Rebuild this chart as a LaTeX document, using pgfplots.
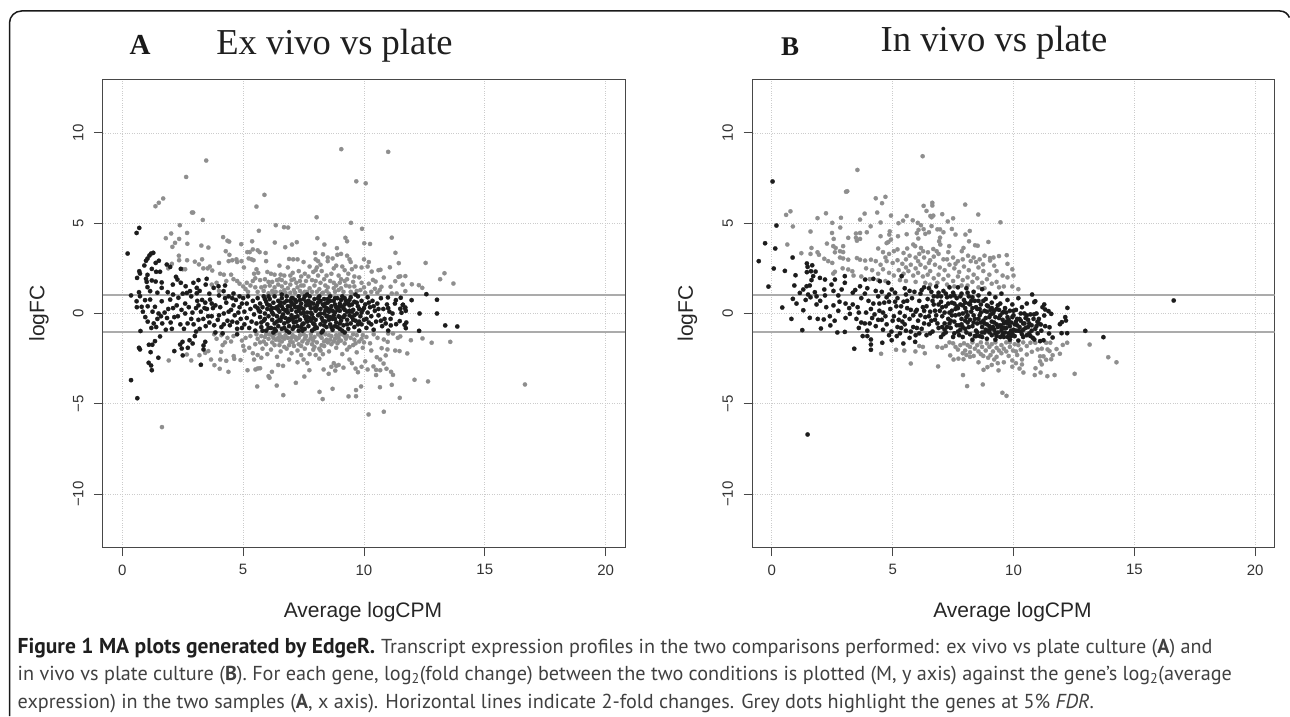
\documentclass[border=0pt]{standalone}
\usepackage{pgfplots}
\pgfplotsset{compat=1.18}
\usepackage{fontspec}
\setmainfont{Liberation Sans}
\newfontfamily\serifx{Liberation Serif}
\newfontfamily\capfont{PT Sans}
\definecolor{dk}{HTML}{1C1C1C}
\definecolor{gy}{HTML}{8E8E8E}
\definecolor{ln}{HTML}{ABABAB}
\pgfplotsset{ma/.style={
  anchor=south west,width=522pt,height=467pt,scale only axis,
  xmin=-0.8,xmax=20.8,ymin=-12.93,ymax=12.93,
  xtick={0,5,10,15,20},xticklabels={0,5,10,15,20},
  ytick={-10,-5,0,5,10},yticklabels={−10,−5,0,5,10},
  xtick pos=bottom,ytick pos=left,tick align=outside,major tick length=9pt,
  xmajorgrids,ymajorgrids,
  grid style={dotted,draw=black!20,line width=0.8pt},
  axis line style={draw=black!72,line width=1pt},
  tick style={draw=black!72,line width=0.9pt},
  tick label style={font=\fontsize{15}{15}\selectfont,text=black!80},
  xticklabel shift=5pt,yticklabel shift=7pt,
  yticklabel style={rotate=90,anchor=south},
  label style={font=\fontsize{21}{21}\selectfont,text=black!85},
  clip=true}}
\pgfplotsset{gd/.style={only marks,mark=*,mark size=2.15pt,mark options={draw=gy,fill=gy,line width=0.2pt}},
 bd/.style={only marks,mark=*,mark size=2.2pt,mark options={draw=dk,fill=dk,line width=0.2pt}},
 hl/.style={draw=ln,line width=2pt,forget plot}}
\begin{document}
\begin{tikzpicture}
\useasboundingbox (0,0) rectangle (1290pt,716pt);
\draw[black!90,line width=1.5pt] (9.5pt,0pt) -- (9.5pt,693pt) arc[start angle=180,end angle=90,radius=12pt] -- (1280pt,705pt) arc[start angle=90,end angle=20,radius=10pt];
\node[font=\serifx\bfseries\fontsize{29}{29}\selectfont,text=black!90,anchor=base] at (140pt,661pt) {A};
\node[font=\serifx\fontsize{36.5}{36.5}\selectfont,text=black!88,anchor=base,inner sep=0pt] at (334.5pt,661pt) {Ex vivo vs plate};
\node[font=\serifx\bfseries\fontsize{27}{27}\selectfont,text=black!90,anchor=base] at (790pt,660pt) {B};
\node[font=\serifx\fontsize{36.6}{36.6}\selectfont,text=black!88,anchor=base,inner sep=0pt] at (994pt,664pt) {In vivo vs plate};

\begin{axis}[ma,at={(103pt,169pt)},
 xlabel={Average logCPM},ylabel={logFC},
 xlabel style={at={(axis description cs:0.498,-0.139)},anchor=center},
 ylabel style={at={(axis description cs:-0.1226,0.5)},anchor=center}]
\addplot[hl] coordinates {(-0.8,1)(20.8,1)};
\addplot[hl] coordinates {(-0.8,-1)(20.8,-1)};
% grey, upper outliers
\addplot[gd] coordinates {(9.06,9.1)(3.47,8.47)(2.64,7.56)(9.68,7.32)(10.07,7.21)(11,8.95)(5.88,6.57)(5.55,5.92)(1.69,6.37)(1.51,6.13)(1.37,5.94)(2.88,5.59)(2.93,5.59)(3.33,5.18)(2.38,4.89)(8.04,5.33)(9.46,5.02)(9.92,4.69)(6.35,4.89)(6.69,4.78)(6.86,4.76)(5.65,4.58)(2.68,4.46)(2.02,4.43)(1.8,4.17)(2.35,4.13)(2.18,3.91)(2.07,3.69)(2.69,3.86)(3.27,3.76)(3.56,3.65)(4.17,4.23)(4.35,4.03)(4.42,3.98)(4.92,3.84)(5.37,4)(6.31,3.93)(6.74,3.67)(7.02,3.82)(7.22,3.95)(8.07,4.17)(8.36,3.82)(8.88,3.62)(9.23,4.19)(9.3,4)(10.01,3.89)(10.25,3.85)(11.15,4.2)(11.3,3.36)(11.44,2.79)(12.55,2.8)(11.07,2.56)(10.6,2.4)(10.68,2.42)(10.32,2.32)(13.33,2.23)(13.15,1.9)(13.7,1.66)(10.82,1.99)(11.43,2.03)(11.5,2.06)(11.71,2.07)(11.29,1.79)(11.6,1.6)(11.98,1.62)(12.27,1.57)(12.41,1.42)(11.71,1.24)(11.15,1.11)(11.35,1.11)(11.1,1.48)(10.72,1.48)(10.45,1.37)(10.37,1.86)(10.48,1.77)
(2.34,3.2)(2.35,2.95)(2.68,2.95)(3.0,2.87)(3.17,2.72)(3.35,2.5)(3.53,2.5)(3.62,2.6)(3.72,2.38)(4,2.8)(3.3,3.0)(2.05,2.75)(1.9,2.5)(2.5,2.45)(2.6,2.45)
(4.28,3.45)(4.43,3.25)(4.4,2.9)(4.55,2.95)(4.72,3)(4.75,2.85)(4.93,2.9)(5.03,2.55)(5.17,3.4)(5.27,3.4)(5.4,3.55)(5.6,3.5)(5.68,3.4)(5.93,3.35)(5.23,3.05)(5.35,3.0)(5.43,2.95)(5.95,2.9)(6.5,2.65)(6.9,3.02)(7.07,3)(7.25,3.0)(7.5,2.85)(7.75,2.6)(7.98,3.35)(8.0,3)(8.1,2.9)(8.3,3.28)(8.5,3.1)(8.7,3.05)(8.9,3.25)(9.05,3.3)(9.3,3.2)(9.4,3.0)(9.45,2.85)(9.65,2.6)(9.9,2.55)(10,3)(10.2,2.85)(10.15,2.6)
(3.7,1.6)(3.9,1.7)(4.05,2.2)(4.2,2.15)(4.5,2.15)(4.6,1.9)(4.75,1.8)(4.85,1.65)(5,1.5)(5.1,1.35)(5.3,1.55)(5.45,2.2)(5.55,2.45)(5.62,2.25)(5.5,1.95)(5.4,1.8)(5.7,1.85)(6,2.3)(6.15,2.2)(6.3,2.15)(6.5,1.9)(6.6,1.85)(6.75,1.7)(6.45,1.6)(6.3,1.45)(6.2,1.25)(6.05,1.12)(6.35,1.2)(6.6,1.5)(6.7,1.3)(6.85,1.4)(6.95,2.1)(7.05,2.25)(7.1,1.9)(7.2,1.7)(7.25,1.45)(7.35,1.25)(7.45,1.1)(7.5,1.55)(7.6,1.8)(7.7,2.05)(7.75,1.4)(7.85,1.2)(7.95,1.55)(8,1.8)(8.1,2.1)(8.05,2.55)(8.2,2.7)(8.25,2.35)(8.35,1.9)(8.4,1.55)(8.45,1.25)(8.55,1.1)(8.6,1.8)(8.65,2.2)(8.75,2.5)(8.85,2.65)(8.95,2.1)(9.0,1.7)(9.05,1.4)(9.15,1.2)(9.25,1.55)(9.3,1.9)(9.35,2.2)(9.5,2.45)(9.55,1.75)(9.6,1.5)(9.7,1.25)(9.8,2)(9.9,1.7)(10,1.45)(10.05,1.15)(10.2,1.65)(10.3,1.2)
(6.7,2.1)(6.85,2.55)(7.3,2.35)(7.4,2.05)(7.9,2.3)(8.5,2.9)(9.1,2.6)(9.2,2.4)(6.1,1.55)(5.75,1.45)(5.6,1.2)(5.85,1.25)(6.95,1.15)(7.15,1.15)(8.25,1.1)(8.8,1.2)(8.85,1.55)(8.15,1.35)(7.65,1.2)(7.1,1.3)(9.45,1.2)(9.4,1.5)(10.55,1.15)(10.65,1.3)
(4.0,1.25)(4.3,1.8)(5.15,1.7)(5.2,1.2)(5.5,1.45)(5.9,1.9)(6.2,1.75)(6.55,1.2)(6.95,1.6)(7,1.85)(7.35,1.8)(7.4,1.55)(7.55,1.2)(7.85,1.85)(8.05,1.2)(8.2,1.7)(8.3,1.15)(8.5,1.45)(8.75,1.4)(8.95,1.3)(9.2,1.8)(9.5,1.1)(9.85,1.3)(6.4,1.85)(6.05,1.75)(5.9,1.5)(6.55,2.15)(6.25,1.1)(6.75,1.15)(7.55,2.2)(8.45,2.1)(8.75,1.7)(9.05,1.9)(9.6,2.05)(8.0,2.4)
};
% grey, lower
\addplot[gd] coordinates {(16.66,-3.93)(13.57,-1.57)(12.8,-1.62)(12.42,-1.38)(11.94,-1.48)(11.79,-2.21)(11.47,-2.08)(11.29,-2.05)(10.97,-1.99)(10.73,-1.92)(10.9,-2.32)(12.09,-3.67)(12.65,-3.76)(11.15,-3.95)(10.66,-4.08)(11.48,-4.67)(10.82,-5.44)(11.2,-3.4)(11.12,-3.23)(10.93,-3.06)(10.5,-3.41)(10.67,-3.14)(10.5,-3.12)(10.39,-2.93)(10.81,-2.77)(10.67,-2.55)(10.53,-2.42)(10.98,-1.57)(10.82,-1.44)(10.56,-1.35)(11.4,-1.35)(11.5,-1.27)(11.2,-1.11)(11,-1.11)
(1.64,-6.29)(1.92,-2.6)(2.67,-2.27)(2.85,-2.6)(3.19,-2.31)(3.43,-2.18)(3.56,-2.08)(3.67,-2.55)(3.81,-2.86)(4.03,-3.06)(4.05,-2.55)(4.3,-2.62)(4.39,-3.23)(4.09,-2.12)(4.61,-2.36)(4.63,-2.51)(4.89,-2.58)(5.58,-4.04)(6.39,-3.99)(6.66,-4.52)(7.18,-3.84)(8.16,-4.34)(8.29,-4.74)(8.7,-4.17)(9.36,-4.59)(9.67,-4.58)(9.67,-4.24)(9.88,-4.04)(10.19,-5.59)(6.05,-3.47)(6.09,-3.56)(6.19,-3.23)(5.18,-3.14)(5.51,-3.1)(5.61,-3.04)(5.7,-3.03)(7.53,-3.49)(7.74,-3.14)(8.54,-3.34)(8.81,-3.16)(8.33,-3.1)(8.65,-2.95)(8.85,-2.9)(8.75,-2.75)(8.95,-2.85)(9.15,-3)(9.4,-2.55)(9.5,-2.75)(9.65,-3.05)(9.75,-3.25)(9.9,-2.95)(10.05,-2.65)(10.15,-3.1)
(3.9,-1.4)(4.1,-1.2)(4.25,-1.6)(4.35,-1.35)(4.5,-1.55)(4.6,-1.25)(4.15,-1.75)(3.8,-1.15)(5.1,-1.35)(4.95,-1.5)(5,-1.8)(5.05,-2.05)(5.25,-1.9)(5.4,-2.2)(5.5,-1.7)(5.6,-1.4)(5.75,-1.25)(5.85,-1.55)(5.8,-1.95)(5.6,-2.3)(5.45,-2.55)(5.75,-2.45)(6,-2.25)(6.15,-2.0)(6.3,-1.75)(6.35,-1.45)(6.2,-1.2)(6.5,-1.15)(6.6,-1.55)(6.7,-1.85)(6.55,-2.1)(6.4,-2.4)(6.65,-2.9)(6.45,-2.85)(6.9,-2.55)(7,-2.2)(7.1,-1.8)(7.2,-1.45)(7.05,-1.2)(6.85,-1.35)(7.35,-1.2)(7.45,-1.55)(7.55,-1.95)(7.4,-2.3)(7.25,-2.7)(7.5,-2.55)(7.65,-2.75)(7.75,-2.25)(7.85,-1.7)(7.95,-1.3)(8.1,-1.15)(8.05,-1.6)(8.15,-1.95)(8,-2.3)(8.15,-2.5)(8.3,-2.25)(8.35,-1.8)(8.45,-1.45)(8.55,-1.2)(8.65,-1.7)(8.55,-2.1)(8.75,-1.55)(8.85,-1.9)(8.95,-1.35)(9.1,-1.15)(9.2,-1.65)(9.3,-2)(9.1,-2.25)(9.45,-1.35)(9.55,-1.75)(9.7,-1.2)(9.8,-1.55)(9.95,-1.9)(10.1,-1.3)(10.25,-1.65)(10.3,-2.05)(9.7,-2.15)(7.6,-1.25)(7.3,-1.7)(6.95,-1.55)(6.5,-1.75)(6.75,-1.2)(8.25,-1.35)(8.4,-1.15)(8.85,-1.2)(9.3,-1.25)(7.9,-2.0)(7.7,-1.5)(6.3,-1.15)(5.95,-1.15)(5.95,-1.7)(6.05,-1.4)(7.8,-1.15)(10.4,-1.15)
(7.25,-2.05)(6.8,-1.95)(6.2,-1.6)(5.55,-1.15)(7.95,-1.85)(8.25,-1.75)(8.6,-1.45)(9.05,-1.5)(9.4,-1.85)(9.65,-1.65)(10,-1.6)(7.55,-1.4)(7.05,-1.6)(6.45,-1.35)(8.9,-1.65)(8.2,-2.05)
(5.3,-1.25)(5.7,-1.6)(6.1,-1.15)(6.7,-1.4)(6.9,-1.75)(7.15,-1.3)(7.4,-1.8)(7.65,-1.65)(7.8,-1.35)(8.2,-1.25)(8.5,-1.6)(8.8,-1.4)(9.0,-1.15)(9.25,-1.4)(9.55,-1.15)(9.95,-1.2)(6.25,-1.35)(5.9,-1.3)(6.6,-1.3)(7.5,-1.15)(7.9,-1.5)(8.35,-1.55)(8.65,-1.25)(8.95,-1.55)(9.2,-1.25)(9.6,-1.45)(9.9,-1.4)(7.3,-1.35)(7,-1.35)(6.5,-1.5)
};
% black
\addplot[bd] coordinates {(0.22,3.32)(0.59,4.46)(0.7,4.74)(1.28,3.36)(1.19,3.32)(1.12,3.21)(1.04,3.04)(0.98,2.92)(1.51,2.92)(1.38,2.8)(0.91,2.66)(1.22,2.47)(0.7,2.34)(0.73,2.21)(1.4,2.31)(1.56,2.31)(0.61,1.97)(1.04,2.14)(0.98,1.92)(1.01,1.75)(1.22,1.83)(1.38,1.77)(1.84,2.71)(1.98,2.58)(2.42,2.47)(2.22,2.03)(2.28,1.88)(2.09,1.6)(2.42,1.7)(2.62,1.51)(2.94,1.7)(3.15,1.85)(3.49,1.92)(3.45,1.6)(3.08,1.42)(2.8,1.24)(3.78,1.42)(3.98,1.51)(4.25,1.55)(4.19,1.24)(4.6,1.11)(1.63,1.72)(1.63,1.42)(1.88,1.18)(1.04,1.46)(1.15,1.24)(0.69,1.18)(0.36,1)(0.59,0.68)(0.73,0.96)(0.94,0.74)(1.15,0.77)(0.8,0.37)(1.35,0.37)(1.63,0.68)(1.98,0.77)(2.32,0.87)(2.67,1.14)(3.08,1.12)(3.43,0.6)(3.63,0.77)(12.58,1.07)(13.02,0.76)(11.97,0.74)(11.52,0.87)(11.32,0.74)(11.61,0.48)(11.71,0.33)(12.3,0)(13.02,0)(13.36,-0.66)(13.86,-0.72)(12.28,-0.96)(11.73,-0.81)(11.68,-0.63)(11.75,-0.5)(11.48,-0.42)(11.33,-0.59)(11.11,-0.66)(11.18,0)(11.55,0.04)(11.73,0.15)(11.5,0.26)(11.69,0.31)(11.61,0.48)(10.99,0.89)(11.28,0.55)
(0.36,-3.69)(0.62,-4.69)(0.73,-1.99)(0.69,-1.9)(1.1,-1.73)(1.24,-1.73)(1.35,-1.53)(1.56,-1.27)(1.17,-2.14)(1.49,-2.45)(1.09,-2.73)(1.19,-2.88)(1.22,-3.14)(3.25,-2.84)(2.15,-2.08)(2.5,-2.32)(2.46,-1.94)(2.39,-1.72)(2.71,-1.9)(2.78,-1.48)(2.49,-1.57)(2.91,-1.66)(3.43,-1.57)(3.36,-1.77)(3.36,-1.99)(0.75,-0.97)(0.85,0.1)(0.6,0.35)(0.95,-0.2)(1.05,-0.45)(1.2,-0.8)(1.25,0.1)(1.45,-0.3)(1.4,-0.75)(1.75,0.05)(1.85,-0.25)(1.65,-0.55)(1.8,-0.9)(2.0,-0.5)(2.1,0.3)(2.25,0.45)(2.3,-0.15)(2.4,-0.6)(2.55,-0.85)(2.6,0)(2.75,0.35)(2.85,-0.3)(2.95,-0.6)(3.05,-1)(3.2,-0.85)(3.05,0.3)(3.1,0.7)(3.25,0.1)(3.35,-0.3)(3.5,0.25)(3.6,-0.5)(3.7,-0.15)(3.85,0.45)(3.95,-0.35)(4.1,-0.75)(4.2,0)(4.3,0.6)(4.35,-0.4)(4.45,-0.65)(4.5,0.2)(4.65,-0.1)(4.7,0.75)(4.75,-0.85)(4.85,0.35)(4.9,-0.3)(5,0.85)(5.05,-0.6)(3.0,-1.25)(3.85,-1.05)(4.15,-1.1)(4.75,-1.15)(4.4,0.95)
(1.05,0.4)(1.5,0.0)(1.9,0.25)(2.15,-0.2)(2.45,0.2)(2.7,-0.55)(2.9,0.05)(3.15,-0.35)(3.4,0.3)(3.55,-0.15)(3.75,0.3)(3.8,-0.65)(4.05,0.35)(4.25,0.85)(4.4,0.1)(4.55,-0.45)(4.6,0.45)(4.8,0.05)(4.95,0.55)(4.95,-0.8)(1.3,-0.55)(1.6,-0.15)(2.05,-0.85)(2.6,0.55)(3.3,0.75)(3.7,0.55)(3.45,-0.7)(4,-0.1)(4.55,0.85)(4.75,-0.5)(4,1.0)(3.6,1.1)(3.2,1.25)(2.5,1.1)(2.1,1.05)(1.45,1.15)(2.85,0.95)(4.85,0.95)(4.2,-0.6)(3.15,0.45)
(5.05,0.1)(5.15,0.55)(5.15,-0.25)(5.2,0.95)(5.25,-0.8)(5.3,0.25)(5.35,-0.45)(5.4,0.7)(5.45,-0.05)(5.5,0.4)(5.5,-0.95)(5.55,-0.55)(5.6,0.85)(5.65,0.15)(5.7,-0.2)(5.7,0.55)(5.75,-0.75)(5.8,0.35)(5.85,-0.4)(5.85,0.95)(5.9,0)(5.95,0.65)(5.95,-0.95)(6,-0.6)(6,0.25)(6.05,-0.15)(6.1,0.8)(6.1,0.45)(6.15,-0.8)(6.2,-0.35)(6.2,0.05)(6.25,0.6)(6.3,-0.55)(6.3,0.95)(6.35,0.3)(6.35,-0.95)(6.4,-0.15)(6.45,0.7)(6.45,-0.7)(6.5,0.1)(6.5,0.45)(6.55,-0.4)(6.6,0.85)(6.6,-0.85)(6.65,-0.05)(6.65,0.25)(6.7,0.6)(6.7,-0.55)(6.75,-0.25)(6.8,0.95)(6.8,-0.95)(6.85,0.4)(6.85,0.05)(6.9,-0.7)(6.95,0.7)(6.95,-0.35)(7,0.2)(7,-0.1)(7.05,0.85)(7.05,-0.85)(7.1,0.5)(7.1,-0.5)(7.15,-0.2)(7.2,0.1)(7.2,0.65)(7.25,-0.7)(7.25,0.35)(7.3,0.95)(7.3,-0.95)(7.35,-0.35)(7.4,0)(7.4,0.55)(7.45,-0.6)(7.5,0.8)(7.5,0.25)(7.55,-0.15)(7.55,-0.85)(7.6,0.45)(7.65,-0.45)(7.65,0.05)(7.7,0.7)(7.7,-0.7)(7.75,0.95)(7.75,-0.25)(7.8,0.3)(7.85,-0.95)(7.85,-0.05)(7.9,0.55)(7.9,-0.55)(7.95,0.8)(8,0.15)(8,-0.35)(8.05,-0.8)(8.05,0.45)(8.1,-0.1)(8.15,0.65)(8.15,0.95)(8.2,-0.6)(8.2,0.25)(8.25,-0.25)(8.3,0.5)(8.3,-0.95)(8.35,0)(8.35,0.8)(8.4,-0.45)(8.45,0.3)(8.45,-0.75)(8.5,0.6)(8.5,-0.15)(8.55,0.1)(8.6,-0.6)(8.6,0.95)(8.65,0.4)(8.7,-0.3)(8.7,-0.9)(8.75,0.7)(8.8,0.05)(8.85,-0.5)(8.85,0.35)(8.9,-0.75)(8.9,0.85)(8.95,-0.15)(9,0.55)(9,0.15)(9.05,-0.4)(9.1,-0.95)(9.1,0.95)(9.15,0.3)(9.15,-0.65)(9.2,-0.1)(9.25,0.7)(9.3,0.1)(9.3,-0.35)(9.35,-0.85)(9.4,0.45)(9.45,-0.55)(9.45,0.9)(9.5,-0.2)(9.55,0.2)(9.6,0.65)(9.6,-0.75)(9.65,-0.4)(9.7,0)(9.75,0.95)(9.75,0.4)(9.8,-0.95)(9.85,-0.15)(9.9,0.7)(9.9,-0.6)(9.95,0.2)(10,-0.35)(10.05,0.5)(10.1,-0.8)(10.15,0.9)(10.15,0.05)(10.2,-0.5)(10.25,0.35)(10.3,-0.15)(10.35,0.7)(10.4,-0.9)(10.45,0.15)(10.5,-0.45)(10.55,0.55)(10.6,-0.1)(10.7,0.85)(10.75,-0.7)(10.8,0.25)(10.85,-0.3)(10.95,0.5)(11,-0.95)(11.05,0.1)
(5.8,-0.95)(6.05,0.95)(6.25,-1.05)(6.6,1.05)(6.75,0.15)(6.9,-1.05)(7.15,0.35)(7.35,0.75)(7.45,-0.95)(7.6,-0.3)(7.65,1.05)(7.8,0.6)(7.95,-0.6)(8.1,0.85)(8.25,-1.05)(8.4,0.15)(8.55,-0.35)(8.6,0.7)(8.75,-0.1)(8.8,-0.7)(8.95,0.35)(9.05,0.75)(9.2,-1.05)(9.35,0.55)(9.5,0.1)(9.65,1.05)(9.75,-0.6)(6.55,0.6)(6.4,0.35)(6.85,-0.45)(7.05,-0.3)(7.3,0.15)(7.5,-0.55)(7.75,0.45)(7.95,0.3)(8.15,-0.05)(8.35,-0.65)(8.5,0.25)(8.65,-0.75)(8.8,0.5)(9,-0.2)(9.2,0.5)(9.4,-0.1)(9.55,-0.35)(9.8,0.25)(7,0.6)(7.2,-0.45)(7.4,0.3)(7.6,0.65)(7.8,-0.4)(8,-0.75)(8.2,0.7)(8.4,0.55)(8.6,0.2)(8.8,-0.3)(9,-0.55)(9.2,0.2)(9.4,0.75)(6.2,0.3)(6,0.5)(6.4,-0.45)(6.6,-0.2)(6.8,0.7)(5.9,-0.3)(5.7,0.1)
(5.6,0.3)(5.75,-0.5)(5.9,0.8)(6.05,-0.8)(6.15,0.2)(6.25,-0.05)(6.3,-0.85)(6.45,0.2)(6.5,-0.35)(6.6,0.4)(6.7,-0.8)(6.8,0.2)(6.9,-0.3)(6.95,0.4)(7,0.85)(7.1,-0.75)(7.15,0.75)(7.25,-0.15)(7.35,0.4)(7.4,-0.75)(7.5,0.05)(7.55,0.95)(7.65,-0.2)(7.7,0.5)(7.8,0.05)(7.9,-0.25)(7.95,-0.85)(8.05,0.25)(8.1,0.6)(8.2,0)(8.3,-0.4)(8.35,0.4)(8.45,-0.15)(8.5,0.8)(8.6,-0.2)(8.7,0.15)(8.8,0.85)(8.9,0.2)(9,-0.85)(9.05,0.4)(9.15,-0.2)(9.2,0.85)(9.3,-0.6)(9.4,0.15)(9.5,0.5)(9.6,-0.1)(9.7,0.6)(9.8,-0.45)(9.9,0.05)(10,0.3)(10.1,-0.3)(10.2,0.6)(10.3,-0.6)(10.4,0.4)(10.6,0.25)(10.7,-0.4)(10.9,-0.55)(11,0.3)(11.1,-0.3)
};
\end{axis}

\begin{axis}[ma,at={(752.5pt,169pt)},
 xlabel={Average logCPM},ylabel={logFC},
 xlabel style={at={(axis description cs:0.498,-0.139)},anchor=center},
 ylabel style={at={(axis description cs:-0.1245,0.5)},anchor=center}]
\addplot[hl] coordinates {(-0.8,1)(20.8,1)};
\addplot[hl] coordinates {(-0.8,-1)(20.8,-1)};
\addplot[gd] coordinates {(6.24,8.71)(3.54,7.95)(3.12,6.77)(3.07,6.74)(4.3,6.38)(4.7,6.46)(4.56,6.11)(8,6.03)(6.64,6.13)(6.64,5.98)(6.28,5.96)(6.4,5.68)(0.59,5.46)(0.77,5.66)(0.87,4.82)(0.64,3.82)(1.6,4.54)(1.89,5.28)(2.24,5.55)(2.86,5.3)(2.5,5.02)(2.83,4.76)(2.49,4.46)(2.56,4.13)(2.28,3.87)(1.64,3.63)(1.6,3.3)(1.22,3.34)(1.89,3.39)(1.95,3.25)(2.17,3.03)(2.33,2.9)(2.5,2.8)(2.54,3.73)(2.64,3.63)(2.61,3.39)(2.82,3.45)(2.95,3.4)(2.82,3.1)(2.95,3.05)(3.16,2.98)(2.93,2.5)(2.54,2.21)(2.61,2.31)(3.16,2.44)(3.33,2.34)(3.38,2.1)(3.52,3.07)(3.65,2.98)(3.86,2.93)(4.1,2.98)(3.65,4.46)(3.48,4.43)(3.48,4.19)(3.65,4.13)(3.52,4.03)(3.16,4.19)(2.95,3.73)(3.65,5.2)(3.84,5.53)(4.36,5.59)(4.5,5.04)(4.93,5.42)(4.09,4.83)(3.93,4.5)(5.24,5)(5.43,5.14)(5.58,5.4)(5.83,5.16)(6.04,5.02)(6.17,4.89)(6.28,4.67)(6.61,5.33)(6.56,5.4)(6.68,5.42)(7.05,5.5)(7.28,5.1)(7.5,5.27)(8.54,5.48)(9.46,5.05)(8.19,4.57)(8.01,4.37)(7.45,4.68)(7.6,4.37)(6.85,4.66)(6.96,4.66)(7.1,4.5)(6.61,4.84)(6.5,4.5)(6.35,4.41)(6.07,4.63)(6,4.45)(5.58,4.39)(5.22,4.28)(4.88,4.55)(4.86,4.37)(4.5,4.28)(4.93,4.09)(4.82,3.96)(4.75,3.9)(8.96,3.96)(8.41,3.78)(8.52,3.75)(8.16,4)(7.93,3.63)(7.86,3.45)(7.34,3.73)(6.96,4.2)(6.92,4)(6.97,3.82)(5.85,3.82)(6.06,4.15)(5.93,3.73)(6.17,3.63)(6.26,3.45)(6.46,3.39)(6.68,3.57)(6.82,3.45)
(9.72,3.23)(9.4,3.18)(9.17,3.1)(9.03,3.07)(9.03,2.93)(8.8,3.2)(8.74,2.72)(8.45,2.85)(8.23,2.9)(8.12,3.2)(4.4,3.6)(4.6,3.4)(4.85,3.3)(5.05,3.45)(5.2,3.55)(5.45,3.35)(5.6,3.6)(5.7,3.2)(5.95,3.1)(6.1,3.3)(6.3,3.1)(6.55,2.95)(6.7,3.15)(6.9,3.3)(7.1,3)(7.3,3.4)(7.5,3.1)(7.7,2.9)(7.9,3)(4.3,2.9)(4.5,2.7)(4.75,2.9)(5,2.8)(5.2,2.95)(5.4,2.75)(5.55,3)(5.75,2.7)(5.95,2.5)(6.15,2.7)(6.35,2.55)(6.55,2.35)(6.75,2.7)(6.95,2.55)(7.15,2.4)(7.35,2.7)(7.55,2.5)(7.75,2.3)(7.95,2.6)(8.15,2.4)(8.35,2.15)(8.55,2.55)(8.75,2.35)(9,2.15)(9.3,2.35)(9.55,2.1)(9.75,2)(3.9,2.5)(4.15,2.4)(4.4,2.2)(4.6,2.45)(4.85,2.25)(5.05,2.1)(5.25,2.4)(5.45,2.2)(5.65,2.35)(5.85,2.1)(6.05,2.25)(6.25,2.05)(6.45,2.15)(6.7,1.95)(6.9,2.15)(7.1,1.9)(7.3,2.1)(7.5,1.8)(7.7,2.05)(7.9,1.85)(8.1,2)(8.3,1.75)(8.5,1.95)(8.7,1.7)(8.9,1.9)(9.1,1.65)(9.3,1.75)(3.7,2.05)(4.05,1.9)(4.4,1.85)(4.7,1.8)(5.3,1.85)(5.55,1.8)(5.95,1.75)(6.35,1.7)(6.55,1.6)(6.85,1.7)(7.25,1.6)(7.55,1.5)(7.85,1.55)(8.1,1.55)(8.55,1.45)(8.8,1.4)(9.4,1.45)(9.6,1.5)(4.7,3.1)(5.55,2.55)(6.05,2.9)(6.5,2.8)(7.25,3)(7.6,2.75)(8.35,3.1)(8.6,3)(9.2,2.65)(9.75,2.75)(9.95,2.45)(10,2.1)(9.95,1.5)(10.2,1.35)
(13.15,-1.72)(13.92,-2.42)(14.26,-2.7)(12.53,-3.34)(12.22,-1.62)(12.04,-1.74)(11.92,-2.23)(11.78,-1.97)(11.7,-3.41)(11.4,-3.47)(11.12,-3.27)(10.88,-3.41)(10.91,-3.03)(10.41,-3.27)(11.17,-2.82)(11.35,-2.56)(11.56,-2.53)(11.62,-2.31)(11.49,-2.08)(11.41,-1.99)(11.17,-1.95)(11,-1.99)(10.76,-2.12)(10.55,-2.27)(10.35,-2.55)(10.35,-2.82)(11.1,-2.37)(11.24,-2.37)(11.1,-2.65)(11.52,-1.62)(11.35,-1.62)(10.9,-1.62)(10.7,-1.62)(10.55,-1.8)(10.3,-2)(10.2,-1.75)(10.4,-1.6)(10.15,-2.3)(9.98,-2.05)
(4.52,-2.23)(5.14,-2.01)(5.48,-2.05)(5.94,-2.1)(6.33,-2.2)(5.75,-2.77)(6.88,-2.93)(7.91,-3.41)(8.08,-4.02)(8.73,-3.93)(9.54,-4.39)(9.71,-4.56)(9.38,-3.15)(8.76,-3.12)(8.92,-2.97)(7.38,-2.32)(7.52,-2.55)(7.72,-2.5)(7.93,-2.53)(7.7,-2)(6.1,-1.8)(6.25,-1.85)(6.85,-1.85)(7.05,-1.9)(7.2,-1.8)(7.35,-1.6)(7.5,-1.65)(7.95,-1.65)(8.1,-1.75)(8.3,-1.6)(8.5,-1.75)(8.7,-1.85)(8.9,-1.65)(9.1,-1.7)(9.3,-1.9)(9.5,-1.75)(9.7,-1.6)(9.85,-1.85)(8,-2.05)(8.2,-2.15)(8.35,-2.35)(8.55,-2.1)(8.75,-2.35)(8.95,-2.45)(9.15,-2.1)(9.3,-2.4)(9.5,-2.2)(9.7,-2.1)(9.95,-2.6)(9.6,-2.7)(9.35,-2.75)(9.2,-2.55)(9.95,-2.95)(10.1,-2.75)(10.25,-3.05)(9.1,-2.85)(8.55,-2.7)(8.2,-2.4)(7.9,-2.2)
(7.6,-1.85)(7.8,-1.75)(8.2,-1.85)(8.4,-1.95)(8.65,-1.6)(8.85,-2.05)(9,-1.85)(9.25,-1.6)(9.4,-2.05)(9.6,-1.95)(9.85,-1.6)(10.05,-1.7)(10.1,-2.1)(8.05,-2.3)(8.65,-2.25)(9.05,-2.3)(9.8,-2.35)
};
\addplot[bd] coordinates {(0.03,7.31)(0.19,4.87)(-0.28,3.89)(0.14,3.6)(-0.54,2.9)(0.86,3.1)(0.08,2.49)(0.54,2.36)(0.98,2.12)(-0.14,1.49)(0.93,1.55)(1.45,2.77)(1.48,2.58)(1.67,2.67)(1.45,2.29)(1.62,2.34)(1.81,2.32)(1.71,2.07)(1.64,1.85)(1.99,1.97)(2.2,1.88)(1.16,1.14)(1.3,1.33)(1.44,1.51)(1.57,1.55)(1.78,1.18)(2.17,1.33)(2.47,1.6)(2.61,1.88)(3.02,2.07)(3.02,1.7)(2.89,1.33)(3.65,1.51)(3.86,1.88)(4.2,1.92)(4.47,1.79)(4.82,1.7)(5.37,2.07)(4.96,1.33)
(0.43,0.33)(0.81,-0.3)(1.26,-0.92)(1.48,-6.7)(0.87,0.81)(1.02,0.55)(1.3,0.18)(1.57,-0.24)(2.03,-0.83)(2.15,-0.33)(2.4,-0.15)(2.42,-0.66)(2.71,-1.05)(3.02,-1.02)(3.41,-1.95)(3.23,-0.02)(3.76,-1.25)(3.95,-1.25)(4.1,-1.44)(4.1,-1.72)(4.1,-2.01)(4.57,-1.62)(4.96,-1.48)(5.17,-1.25)(5.44,-1.66)(5.93,-1.57)(1.4,0.75)(1.6,0.9)(1.85,0.5)(2,0.7)(2.25,0.35)(2.55,0.45)(2.8,0.65)(3.05,0.55)(3.35,0.5)(3.55,0.35)(3.7,0.85)(4,0.7)(4.2,0.55)(4.4,0.95)(4.65,0.6)(4.75,0.9)(1.5,1.05)(2.75,1)(3.35,1.15)(3.85,1.1)(4.3,1.25)(4.55,1.2)(4.85,1.05)(5.1,1.15)(3.5,-0.3)(3.7,-0.5)(3.6,-0.8)(3.85,-0.55)(3.95,-0.95)(4.15,-0.25)(4.3,-0.7)(4.4,-0.35)(4.45,0.15)(4.6,-0.9)(4.7,-0.15)(4.75,-0.6)(4.9,0.25)(4.95,-1)(5,-0.4)(5.15,0.4)(5.2,-0.75)(5.3,0.05)(5.4,-0.45)(5.45,0.65)(5.55,-0.95)(5.6,0.3)(4.1,0.25)(3.9,0.05)(4.25,-0.05)(5.7,-0.3)(5.8,0.85)(5.85,-0.75)(5.7,1.25)(5.5,1.4)(5.95,0.1)(4.85,-1.2)(5.3,-1.1)(5.7,-1.35)(5.95,-1.2)
(4.6,0.05)(4.85,0.65)(5.05,-0.15)(5.2,0.85)(5.35,0.4)(5.5,-0.15)(5.6,0.7)(5.75,0.2)(5.85,-0.1)(5.55,1.05)(5.9,1.2)(5.35,-0.8)(5.5,-0.6)(5.75,-1)(3.6,0.05)(3.2,0.3)(3.05,-0.25)(2.75,0.15)(2.6,-0.4)(1.9,-0.3)(1.85,0.95)(2.2,1)(2.55,1.25)(3.45,1.3)(3.95,1.4)(4.05,-0.55)(5.1,0.65)(5.25,-0.35)(4.45,0.55)(4.55,-0.35)
(16.63,0.72)(10.77,1.05)(10.86,0.63)(10.9,0.68)(11.27,0.5)(12.23,0.31)(11.31,0.22)(11.45,0.13)(11.56,-0.02)(11.27,-0.11)(12.14,-0.2)(12.17,-0.39)(12,-0.48)(11.92,-0.59)(11.49,-0.76)(11.31,-0.7)(11.13,-0.61)(10.99,-0.46)(10.83,-0.3)(12.97,-0.96)(13.72,-1.31)(11.99,-1.09)(12.22,-1.09)(11.47,-1.11)(11.62,-1.33)(11.24,-1.48)(11.1,-1.53)(10.86,-1.44)
(6,0.2)(6.05,-0.4)(6.1,0.7)(6.15,1.1)(6.2,-0.85)(6.25,0.35)(6.3,1.45)(6.35,-0.2)(6.4,-1.2)(6.45,0.8)(6.5,-0.6)(6.55,0.1)(6.6,1.2)(6.65,-1)(6.7,0.5)(6.75,-0.35)(6.8,1.5)(6.85,0.95)(6.9,-0.8)(6.95,0.15)(7,-1.3)(7,0.65)(7.05,-0.15)(7.1,1.25)(7.15,-0.55)(7.2,0.4)(7.2,-1.05)(7.25,0.9)(7.3,-0.3)(7.35,1.45)(7.35,0.05)(7.4,-0.8)(7.45,0.6)(7.5,-1.3)(7.5,1.15)(7.55,-0.45)(7.6,0.25)(7.6,-0.1)(7.65,0.85)(7.7,-1)(7.7,1.45)(7.75,-0.65)(7.8,0.5)(7.85,-0.3)(7.85,1.1)(7.9,0)(7.9,-1.3)(7.95,0.75)(8,-0.85)(8,0.3)(8.05,1.4)(8.1,-0.5)(8.1,-0.1)(8.15,0.95)(8.2,-1.15)(8.2,0.5)(8.25,0.1)(8.3,-0.7)(8.3,-1.45)(8.35,1.2)(8.4,-0.3)(8.4,0.7)(8.45,-0.95)(8.5,0.25)(8.5,-0.55)(8.55,1)(8.6,-1.25)(8.6,-0.1)(8.65,0.5)(8.7,-0.75)(8.7,1.35)(8.75,-0.4)(8.8,0.15)(8.8,-1.05)(8.85,0.8)(8.9,-1.4)(8.9,-0.6)(8.95,0.4)(9,-0.2)(9,1.1)(9.05,-0.85)(9.1,-1.2)(9.1,0.6)(9.15,0)(9.2,-0.5)(9.25,0.9)(9.25,-1.45)(9.3,0.25)(9.35,-0.75)(9.35,-1.05)(9.4,-0.25)(9.45,0.55)(9.5,-0.95)(9.5,1.1)(9.55,0.05)(9.6,-0.55)(9.6,-1.3)(9.65,0.3)(9.7,-0.8)(9.75,0.75)(9.75,-0.2)(9.8,-1.1)(9.85,-1.45)(9.85,0.15)(9.9,-0.5)(9.95,0.5)(10,-0.9)(10,-0.1)(10.05,-1.25)(10.1,0.2)(10.15,-0.65)(10.2,0.85)(10.2,-1.5)(10.25,-0.3)(10.3,-1)(10.35,0.35)(10.4,-0.55)(10.4,-1.3)(10.45,0)(10.5,-0.8)(10.55,0.55)(10.6,-0.35)(10.65,-1.1)(10.7,-0.05)(10.75,-0.65)(10.8,-1.35)(10.9,-0.85)(10.95,0)(11,-1.1)(11.05,-0.3)(11.15,-0.95)(11.2,0.35)
(6.2,1.3)(6.5,1.4)(6.7,0.95)(6.85,-0.55)(7,0.95)(7.15,0.05)(7.3,0.55)(7.4,-0.4)(7.45,0.15)(7.55,0.55)(7.65,-0.65)(7.75,-0.05)(7.8,-0.9)(7.9,0.45)(8,-0.4)(8.05,0.1)(8.15,-0.75)(8.25,0.7)(8.35,-0.1)(8.45,0.35)(8.5,-1.05)(8.6,0.25)(8.65,-0.5)(8.75,0.7)(8.85,-0.25)(8.9,0.1)(9,-0.7)(9.05,-0.05)(9.1,0.3)(9.2,-0.9)(9.25,-0.2)(9.3,-0.6)(9.4,0.2)(9.45,-1.3)(9.55,-0.35)(9.6,-0.8)(9.65,-1.05)(9.7,0.05)(9.8,-0.35)(9.9,-0.95)(9.95,-0.2)(10.05,-0.6)(10.1,-0.95)(10.15,-0.3)(10.25,-0.75)(10.3,0)(10.4,-0.9)(10.5,-0.25)(10.55,-1.2)(10.6,-0.75)(10.7,-1.25)(6,-0.8)(6.1,-1.1)(6.3,-0.55)(6.4,0.4)(6.55,-1.1)(6.6,-0.4)(6.75,0.15)(6.9,0.5)(7.05,-0.75)(7.1,-1.15)(7.25,-0.75)(7.4,0.95)(7.55,-1.1)(7.7,0.3)(7.85,-0.6)(8.05,-1.05)(8.15,0.55)(8.3,0.3)(8.4,-1.25)(8.55,-0.3)(8.7,-1.3)(8.85,-0.9)(9,-1.05)(9.15,-0.75)(9.3,-1.25)(9.45,-0.65)(9.55,-1.15)(9.75,-0.55)(9.9,-1.25)
(6.15,-0.1)(6.3,0.15)(6.5,-0.15)(6.65,0.7)(6.8,-0.1)(6.9,1.15)(7.05,0.35)(7.15,-0.9)(7.2,1.1)(7.35,-0.55)(7.45,-0.1)(7.55,1.0)(7.65,0.4)(7.75,-1.2)(7.8,0.95)(7.9,-0.75)(8,0.6)(8.05,-0.2)(8.1,1.15)(8.2,-0.35)(8.3,0.9)(8.35,-0.5)(8.45,-1.25)(8.55,0.7)(8.65,0.05)(8.7,-1.05)(8.8,-0.55)(8.9,0.45)(8.95,-0.95)(9.05,0.2)(9.1,-0.45)(9.2,0.15)(9.25,-1.1)(9.35,0.45)(9.45,-0.1)(9.5,-0.75)(9.6,0.1)(9.7,-0.45)(9.75,-1.3)(9.85,-0.7)(9.95,-1.1)(10,0.15)(10.1,-0.45)(10.2,-0.95)(10.3,-0.4)(10.35,-1.15)(10.45,-0.55)(10.55,-0.1)(10.65,-0.55)(10.75,-0.95)(10.85,-0.05)(10.95,-0.7)(11.05,-0.55)
};
\end{axis}

\node[font=\capfont\bfseries\fontsize{21.5}{21.5}\selectfont,text=black!88,anchor=base west,inner sep=0pt] (c1) at (17.5pt,63pt) {Figure 1 MA plots generated by EdgeR.};
\node[font=\capfont\fontsize{20.2}{20.2}\selectfont,text=black!75,anchor=base west,inner sep=0pt] at (c1.base east) {\ Transcript expression profiles in the two comparisons performed: ex vivo vs plate culture (\textbf{A}) and};
\node[font=\capfont\fontsize{20.2}{20.2}\selectfont,text=black!75,anchor=base west,inner sep=0pt] at (17.5pt,36pt) {in vivo vs plate culture (\textbf{B}). For each gene, log\textsubscript{2}(fold change) between the two conditions is plotted (M, y axis) against the gene’s log\textsubscript{2}(average};
\node[font=\capfont\fontsize{20.2}{20.2}\selectfont,text=black!75,anchor=base west,inner sep=0pt] at (17.5pt,8pt) {expression) in the two samples (\textbf{A}, x axis). Horizontal lines indicate 2-fold changes. Grey dots highlight the genes at 5\% \textit{FDR}.};
\end{tikzpicture}
\end{document}
